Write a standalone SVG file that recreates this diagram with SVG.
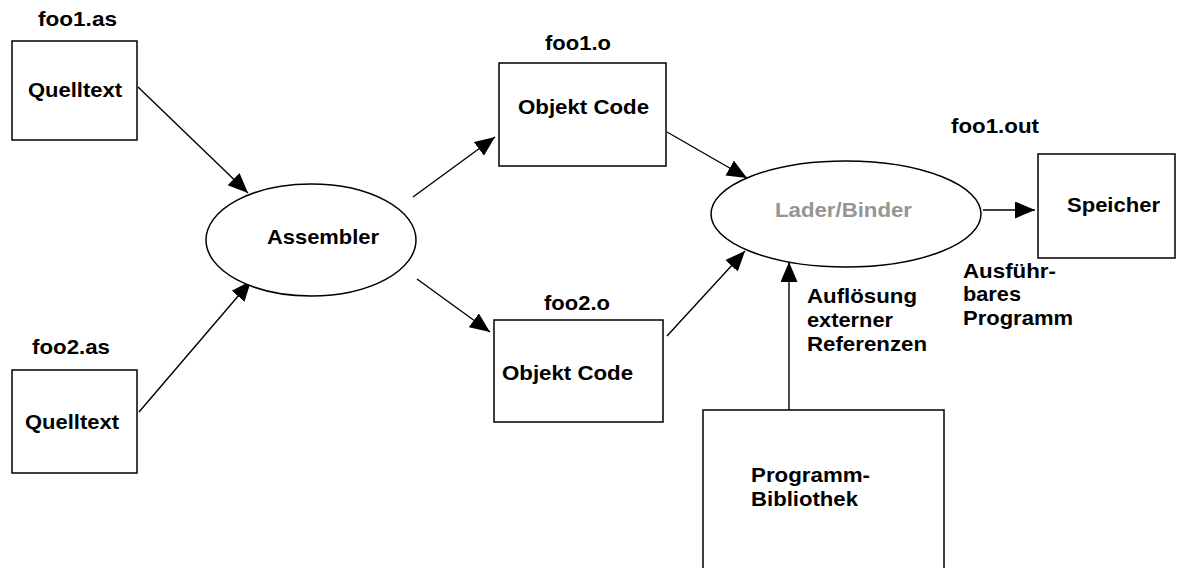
<svg xmlns="http://www.w3.org/2000/svg" width="1186" height="568" viewBox="0 0 1186 568">
<style>
.box{fill:#fff;stroke:#000;stroke-width:1.5}
.ell{fill:#fff;stroke:#000;stroke-width:1.5}
.t{font-family:"Liberation Sans",Arial,Helvetica,sans-serif;font-weight:bold;font-size:21px;fill:#000}
.grey{fill:#959595}
.edge{stroke:#000;stroke-width:1.4;fill:none;marker-end:url(#arr)}
</style>
<defs>
<marker id="arr" markerUnits="userSpaceOnUse" markerWidth="22" markerHeight="18" refX="20" refY="8.5" orient="auto">
<path d="M0,0 L20,8.5 L0,17 z" fill="#000"/>
</marker>
</defs>
<rect width="1186" height="568" fill="#fff"/>
<g id="connectors">
<line class="edge" x1="138" y1="87" x2="248" y2="193"/>
<line class="edge" x1="139" y1="412" x2="251" y2="281"/>
<line class="edge" x1="413" y1="197" x2="495" y2="137"/>
<line class="edge" x1="417" y1="279" x2="490" y2="332"/>
<line class="edge" x1="667" y1="132" x2="747" y2="178"/>
<line class="edge" x1="667" y1="336" x2="745" y2="251"/>
<line class="edge" x1="983" y1="210" x2="1035" y2="210"/>
<line class="edge" x1="789" y1="410" x2="789" y2="262"/>
</g>
<g id="quelltext1">
<text class="t" x="38" y="26" textLength="79" lengthAdjust="spacingAndGlyphs">foo1.as</text>
<rect class="box" x="12" y="41" width="125" height="99"/>
<text class="t" x="28" y="97" textLength="94" lengthAdjust="spacingAndGlyphs">Quelltext</text>
</g>
<g id="quelltext2">
<text class="t" x="32" y="354" textLength="78" lengthAdjust="spacingAndGlyphs">foo2.as</text>
<rect class="box" x="12" y="370" width="125" height="103"/>
<text class="t" x="25" y="429" textLength="94" lengthAdjust="spacingAndGlyphs">Quelltext</text>
</g>
<g id="assembler">
<ellipse class="ell" cx="311" cy="240" rx="105" ry="56"/>
<text class="t" x="267" y="244" textLength="112" lengthAdjust="spacingAndGlyphs">Assembler</text>
</g>
<g id="objekt1">
<text class="t" x="545" y="50" textLength="66" lengthAdjust="spacingAndGlyphs">foo1.o</text>
<rect class="box" x="499" y="63" width="167" height="103"/>
<text class="t" x="518" y="114" textLength="131" lengthAdjust="spacingAndGlyphs">Objekt Code</text>
</g>
<g id="objekt2">
<text class="t" x="544" y="310" textLength="66" lengthAdjust="spacingAndGlyphs">foo2.o</text>
<rect class="box" x="494" y="320" width="169" height="102"/>
<text class="t" x="502" y="380" textLength="131" lengthAdjust="spacingAndGlyphs">Objekt Code</text>
</g>
<g id="lader">
<ellipse class="ell" cx="846" cy="214" rx="135" ry="53"/>
<text class="t grey" x="775" y="217" textLength="137" lengthAdjust="spacingAndGlyphs">Lader/Binder</text>
</g>
<g id="speicher">
<text class="t" x="951" y="133" textLength="88" lengthAdjust="spacingAndGlyphs">foo1.out</text>
<rect class="box" x="1038" y="154" width="137" height="104"/>
<text class="t" x="1067" y="212" textLength="93" lengthAdjust="spacingAndGlyphs">Speicher</text>
</g>
<g id="label-ausfuehrbar">
<text class="t" x="963" y="278" textLength="93" lengthAdjust="spacingAndGlyphs">Ausführ-</text>
<text class="t" x="963" y="301" textLength="58" lengthAdjust="spacingAndGlyphs">bares</text>
<text class="t" x="963" y="325" textLength="110" lengthAdjust="spacingAndGlyphs">Programm</text>
</g>
<g id="label-aufloesung">
<text class="t" x="807" y="303" textLength="110" lengthAdjust="spacingAndGlyphs">Auflösung</text>
<text class="t" x="807" y="327" textLength="86" lengthAdjust="spacingAndGlyphs">externer</text>
<text class="t" x="807" y="351" textLength="120" lengthAdjust="spacingAndGlyphs">Referenzen</text>
</g>
<g id="bibliothek">
<rect class="box" x="703" y="410" width="241" height="170"/>
<text class="t" x="751" y="482" textLength="119" lengthAdjust="spacingAndGlyphs">Programm-</text>
<text class="t" x="751" y="506" textLength="107" lengthAdjust="spacingAndGlyphs">Bibliothek</text>
</g>
</svg>
